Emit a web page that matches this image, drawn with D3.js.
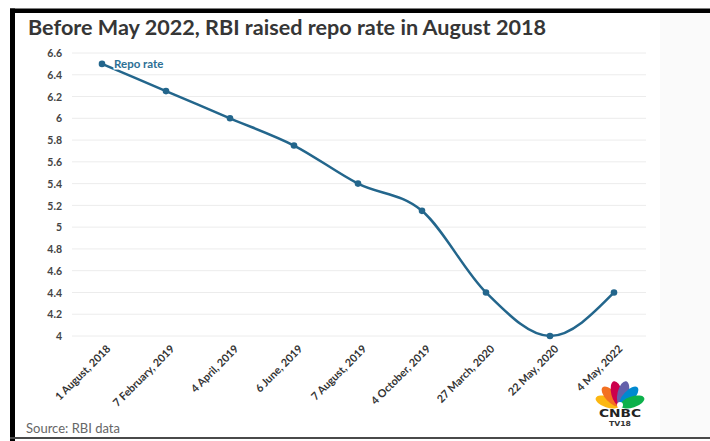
<!DOCTYPE html>
<html>
<head>
<meta charset="utf-8">
<script src="https://cdn.jsdelivr.net/npm/d3@7"></script>
<style>
html,body{margin:0;padding:0;background:#fff;}
svg{display:block;}
</style>
</head>
<body>
<svg id="chart" width="710" height="441"></svg>
<script>
const dates = ["1 August, 2018","7 February, 2019","4 April, 2019","6 June, 2019","7 August, 2019","4 October, 2019","27 March, 2020","22 May, 2020","4 May, 2022"];
const repoRate = [6.5, 6.25, 6, 5.75, 5.4, 5.15, 4.4, 4, 4.4];
const yTicks = [4, 4.2, 4.4, 4.6, 4.8, 5, 5.2, 5.4, 5.6, 5.8, 6, 6.2, 6.4, 6.6];
const title = "Before May 2022, RBI raised repo rate in August 2018";
const seriesName = "Repo rate";
const source = "Source: RBI data";

const svg = d3.select("#chart");
const lineColor = "#23668c";

// light panel on the right
svg.append("rect").attr("x", 660).attr("y", 13).attr("width", 50).attr("height", 424).attr("fill", "#fafafa");

// frame borders
svg.append("rect").attr("x", 10).attr("y", 8.5).attr("width", 700).attr("height", 4.5).attr("fill", "#000");
svg.append("rect").attr("x", 10).attr("y", 8.5).attr("width", 5).attr("height", 432.5).attr("fill", "#000");
svg.append("rect").attr("x", 10).attr("y", 437).attr("width", 700).attr("height", 2).attr("fill", "#4a4a4a");

// title
svg.append("text")
  .attr("x", 28).attr("y", 35)
  .attr("font-family", "Lato, sans-serif").attr("font-weight", 700)
  .attr("font-size", 21).attr("fill", "#363636")
  .attr("textLength", 518).attr("lengthAdjust", "spacingAndGlyphs")
  .text(title);

const x = d3.scalePoint().domain(dates).range([70, 646]).padding(0.5);
const y = d3.scaleLinear().domain([4, 6.6]).range([336, 53]);

// gridlines
svg.append("g").selectAll("line").data(yTicks).join("line")
  .attr("x1", 72).attr("x2", 646)
  .attr("y1", d => y(d)).attr("y2", d => y(d))
  .attr("stroke", "#ececec").attr("stroke-width", 1);

// y axis labels
const yAxis = d3.axisLeft(y).tickValues(yTicks).tickSize(0).tickPadding(0)
  .tickFormat(d => d3.format("~g")(d));
const yg = svg.append("g").attr("transform", "translate(62,0)").call(yAxis);
yg.select(".domain").remove();
yg.selectAll("text")
  .attr("font-family", "Lato, sans-serif").attr("font-weight", 700)
  .attr("font-size", 10.5).attr("fill", "#444").attr("dy", "0.35em");

// x axis labels
const xAxis = d3.axisBottom(x).tickSize(0).tickPadding(0);
const xg = svg.append("g").attr("transform", "translate(0,343)").call(xAxis);
xg.select(".domain").remove();
xg.selectAll("text")
  .attr("font-family", "Lato, sans-serif").attr("font-weight", 700)
  .attr("font-size", 10.8).attr("fill", "#333")
  .attr("text-anchor", "end").attr("dy", "0.35em").attr("y", 0)
  .attr("transform", "translate(6,4) rotate(-45)");

// line
const line = d3.line()
  .x((d, i) => x(dates[i]))
  .y(d => y(d))
  .curve(d3.curveMonotoneX);
svg.append("path").datum(repoRate)
  .attr("d", line).attr("fill", "none")
  .attr("stroke", lineColor).attr("stroke-width", 2.5)
  .attr("stroke-linejoin", "round").attr("stroke-linecap", "round");

// points
svg.append("g").selectAll("circle").data(repoRate).join("circle")
  .attr("cx", (d, i) => x(dates[i])).attr("cy", d => y(d))
  .attr("r", 3.3).attr("fill", lineColor);

// series label with white halo
svg.append("text")
  .attr("x", x(dates[0]) + 12).attr("y", y(repoRate[0]) + 4)
  .attr("font-family", "Lato, sans-serif").attr("font-weight", 700)
  .attr("font-size", 11.5).attr("fill", "#2c6f94")
  .attr("stroke", "#fff").attr("stroke-width", 3).attr("paint-order", "stroke")
  .text(seriesName);

// source
svg.append("text")
  .attr("x", 26).attr("y", 433)
  .attr("font-family", "Lato, sans-serif").attr("font-size", 13)
  .attr("fill", "#666").text(source);

// CNBC TV18 logo
const logo = svg.append("g").attr("transform", "translate(620,406)");
const feathers = [
  {a: -72, c: "#fcb711"}, {a: -43, c: "#f37021"}, {a: -14, c: "#cc004c"},
  {a: 14, c: "#6460aa"}, {a: 43, c: "#0089d0"}, {a: 72, c: "#0db14b"}
];
logo.selectAll("ellipse").data(feathers).join("ellipse")
  .attr("cx", 0).attr("cy", -13).attr("rx", 5.6).attr("ry", 12.5)
  .attr("fill", d => d.c)
  .attr("transform", d => `rotate(${d.a})`);
logo.append("circle").attr("r", 3).attr("cy", -1).attr("fill", "#fff");
logo.append("text").attr("x", 0).attr("y", 11)
  .attr("text-anchor", "middle").attr("font-family", "DejaVu Sans, sans-serif")
  .attr("font-weight", 700).attr("font-size", 10).attr("fill", "#222")
  .attr("textLength", 42).attr("lengthAdjust", "spacingAndGlyphs").text("CNBC");
logo.append("text").attr("x", 0).attr("y", 20)
  .attr("text-anchor", "middle").attr("font-family", "DejaVu Sans, sans-serif")
  .attr("font-weight", 700).attr("font-size", 7).attr("fill", "#333")
  .attr("textLength", 22).attr("lengthAdjust", "spacingAndGlyphs").text("TV18");
</script>
</body>
</html>
